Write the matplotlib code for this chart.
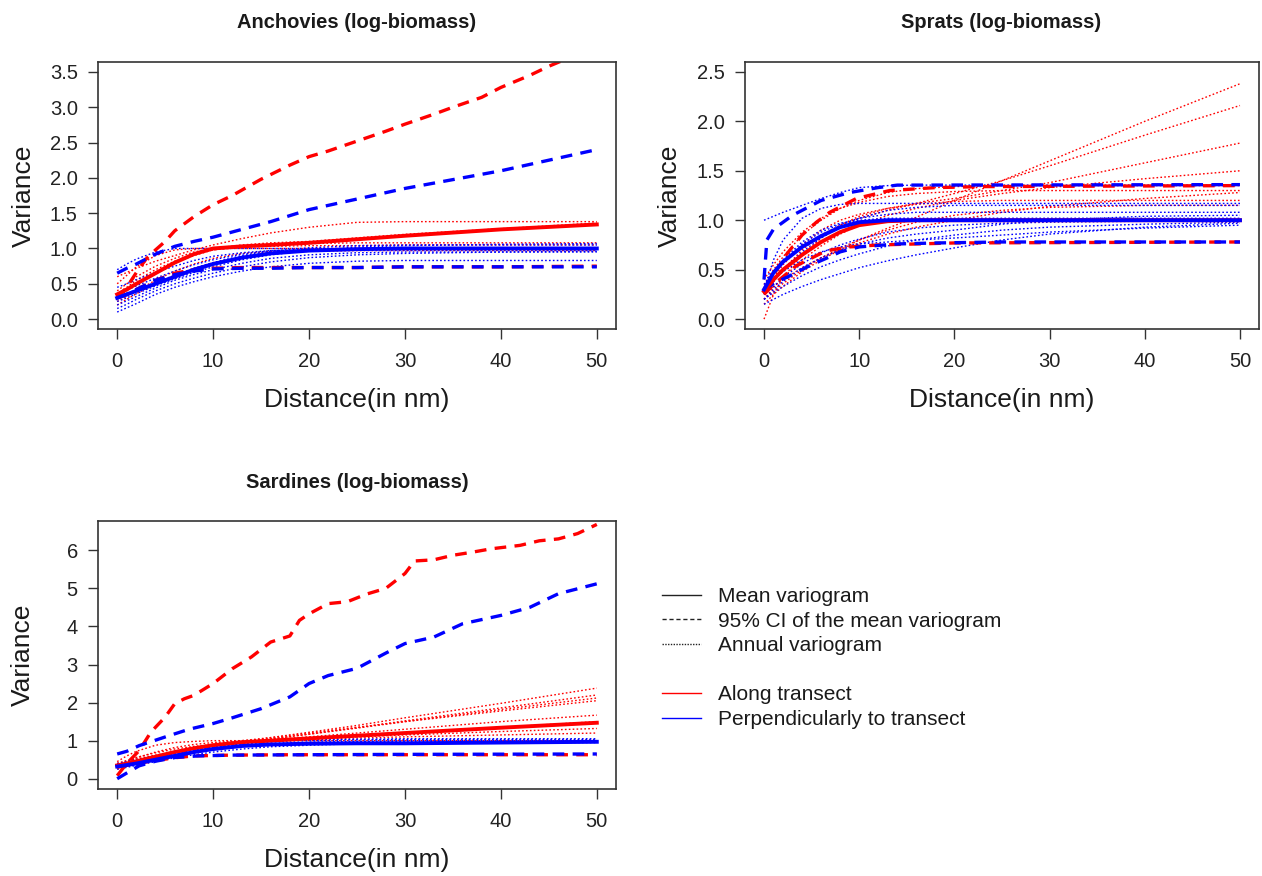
import matplotlib
matplotlib.use("Agg")
import matplotlib.pyplot as plt
from matplotlib.lines import Line2D

plt.rcParams['font.family'] = ['Liberation Sans', 'DejaVu Sans']

# ---------------- data ----------------
# common distance grid for mean and annual variograms
dist = [0, 1, 2, 4, 6, 8, 10, 13, 16, 20, 25, 30, 40, 50]

# Anchovies
anch_red_mean = [0.35, 0.42, 0.5, 0.65, 0.8, 0.92, 1.0, 1.03, 1.05, 1.08, 1.13, 1.18, 1.27, 1.34]
anch_blue_mean = [0.3, 0.35, 0.4, 0.5, 0.6, 0.7, 0.78, 0.87, 0.93, 0.97, 0.99, 1.0, 1.0, 1.0]
anch_red_up_x = [0, 1, 2, 3, 4, 5, 6, 8, 10, 12, 15, 18, 20, 22, 25, 28, 30, 33, 35, 38, 40, 43, 45, 48, 50]
anch_red_up_y = [0.3, 0.45, 0.66, 0.85, 0.98, 1.1, 1.25, 1.45, 1.62, 1.75, 1.98, 2.18, 2.3, 2.38, 2.52,
                 2.66, 2.76, 2.9, 3.0, 3.14, 3.28, 3.45, 3.58, 3.75, 3.9]
anch_red_lo_y = [0.3, 0.35, 0.42, 0.55, 0.65, 0.7, 0.72, 0.73, 0.73, 0.73, 0.73, 0.74, 0.74, 0.75]
anch_blue_up_y = [0.65, 0.72, 0.78, 0.92, 1.03, 1.1, 1.16, 1.27, 1.38, 1.55, 1.7, 1.85, 2.1, 2.4]
anch_blue_lo_y = [0.3, 0.35, 0.42, 0.55, 0.63, 0.68, 0.71, 0.72, 0.72, 0.73, 0.73, 0.74, 0.74, 0.74]
anch_red_annual = [
    [0.6, 0.66, 0.72, 0.82, 0.9, 0.98, 1.05, 1.14, 1.22, 1.3, 1.37, 1.38, 1.38, 1.38],
    [0.3, 0.4, 0.5, 0.66, 0.8, 0.9, 0.98, 1.03, 1.05, 1.07, 1.08, 1.08, 1.08, 1.08],
    [0.4, 0.5, 0.6, 0.75, 0.86, 0.95, 1.0, 1.05, 1.08, 1.1, 1.15, 1.2, 1.28, 1.36],
    [0.25, 0.32, 0.4, 0.55, 0.68, 0.78, 0.86, 0.93, 0.96, 0.98, 0.99, 1.0, 1.0, 1.0],
    [0.5, 0.62, 0.74, 0.9, 0.98, 1.0, 1.0, 1.0, 1.0, 1.0, 1.0, 1.0, 1.0, 1.0],
    [0.2, 0.28, 0.36, 0.5, 0.62, 0.72, 0.8, 0.88, 0.93, 0.96, 0.97, 0.97, 0.97, 0.97],
    [0.35, 0.45, 0.55, 0.7, 0.82, 0.92, 0.98, 1.02, 1.03, 1.04, 1.04, 1.05, 1.05, 1.05],
]
anch_blue_annual = [
    [0.7, 0.78, 0.85, 0.95, 1.0, 1.0, 1.0, 1.0, 1.0, 1.0, 1.0, 1.0, 1.0, 1.0],
    [0.1, 0.16, 0.22, 0.35, 0.45, 0.53, 0.6, 0.68, 0.74, 0.79, 0.82, 0.83, 0.83, 0.83],
    [0.2, 0.26, 0.32, 0.44, 0.55, 0.63, 0.7, 0.79, 0.86, 0.91, 0.94, 0.95, 0.95, 0.95],
    [0.3, 0.36, 0.42, 0.52, 0.62, 0.72, 0.8, 0.9, 0.96, 1.01, 1.04, 1.05, 1.05, 1.05],
    [0.25, 0.3, 0.36, 0.47, 0.57, 0.66, 0.74, 0.84, 0.91, 0.97, 1.02, 1.04, 1.06, 1.07],
    [0.35, 0.41, 0.47, 0.58, 0.68, 0.77, 0.84, 0.92, 0.97, 0.99, 1.0, 1.0, 1.0, 1.0],
    [0.45, 0.5, 0.56, 0.66, 0.75, 0.83, 0.89, 0.94, 0.97, 0.98, 0.98, 0.98, 0.98, 0.98],
    [0.15, 0.21, 0.28, 0.4, 0.5, 0.58, 0.65, 0.74, 0.81, 0.87, 0.91, 0.93, 0.95, 0.96],
]

# Sprats
spr_red_mean = [0.28, 0.4, 0.5, 0.65, 0.78, 0.88, 0.95, 0.99, 1.0, 1.0, 1.0, 1.0, 1.0, 1.0]
spr_blue_mean = [0.3, 0.47, 0.58, 0.73, 0.84, 0.93, 0.98, 1.0, 1.0, 1.0, 1.0, 1.0, 1.0, 1.0]
spr_blue_up_x = [0, 0.3, 1, 2, 3, 6, 9, 12, 14, 50]
spr_blue_up_y = [0.4, 0.8, 0.91, 0.98, 1.05, 1.2, 1.28, 1.33, 1.355, 1.36]
spr_blue_lo_x = [0, 1, 2.75, 5, 6.9, 8, 10, 14, 18, 25, 50]
spr_blue_lo_y = [0.3, 0.36, 0.44, 0.55, 0.63, 0.68, 0.73, 0.76, 0.77, 0.78, 0.78]
spr_red_up_x = [0, 1, 2.4, 4, 5.5, 6.9, 9.7, 13.2, 18, 23, 50]
spr_red_up_y = [0.3, 0.45, 0.66, 0.85, 0.98, 1.08, 1.22, 1.3, 1.33, 1.34, 1.35]
spr_red_lo_x = [0, 1, 3.4, 6.5, 9, 12, 20, 50]
spr_red_lo_y = [0.25, 0.35, 0.54, 0.69, 0.73, 0.75, 0.77, 0.78]
spr_red_annual = [
    [0.15, 0.25, 0.33, 0.48, 0.6, 0.7, 0.8, 0.92, 1.03, 1.2, 1.4, 1.6, 2.0, 2.38],
    [0.25, 0.38, 0.5, 0.7, 0.85, 0.95, 1.02, 1.1, 1.17, 1.27, 1.4, 1.55, 1.86, 2.16],
    [0.3, 0.42, 0.55, 0.75, 0.9, 1.0, 1.06, 1.12, 1.17, 1.22, 1.3, 1.38, 1.58, 1.78],
    [0.2, 0.32, 0.42, 0.6, 0.74, 0.86, 0.95, 1.05, 1.12, 1.2, 1.27, 1.33, 1.42, 1.5],
    [0.4, 0.55, 0.68, 0.88, 1.02, 1.12, 1.18, 1.24, 1.27, 1.29, 1.3, 1.3, 1.3, 1.3],
    [0.0, 0.25, 0.42, 0.65, 0.82, 0.95, 1.04, 1.12, 1.16, 1.19, 1.2, 1.2, 1.2, 1.2],
    [0.2, 0.28, 0.36, 0.5, 0.62, 0.72, 0.8, 0.9, 0.98, 1.05, 1.1, 1.13, 1.15, 1.15],
    [0.35, 0.5, 0.63, 0.85, 1.0, 1.12, 1.2, 1.28, 1.32, 1.34, 1.35, 1.35, 1.35, 1.35],
    [0.25, 0.33, 0.4, 0.52, 0.62, 0.7, 0.77, 0.86, 0.93, 1.0, 1.08, 1.14, 1.22, 1.28],
]
spr_blue_annual = [
    [1.0, 1.04, 1.08, 1.15, 1.22, 1.28, 1.33, 1.35, 1.355, 1.355, 1.355, 1.355, 1.355, 1.355],
    [0.3, 0.6, 0.8, 1.02, 1.12, 1.16, 1.17, 1.17, 1.17, 1.17, 1.17, 1.17, 1.17, 1.17],
    [0.25, 0.38, 0.5, 0.68, 0.82, 0.93, 1.02, 1.1, 1.13, 1.15, 1.15, 1.15, 1.15, 1.15],
    [0.15, 0.2, 0.25, 0.33, 0.4, 0.46, 0.52, 0.59, 0.65, 0.72, 0.8, 0.86, 0.93, 0.97],
    [0.2, 0.27, 0.33, 0.44, 0.53, 0.6, 0.66, 0.74, 0.8, 0.85, 0.9, 0.93, 0.96, 0.98],
    [0.25, 0.33, 0.42, 0.56, 0.67, 0.75, 0.81, 0.88, 0.92, 0.95, 0.97, 0.98, 0.99, 1.0],
    [0.2, 0.3, 0.38, 0.52, 0.62, 0.7, 0.76, 0.82, 0.86, 0.9, 0.96, 1.0, 1.04, 1.05],
    [0.35, 0.48, 0.6, 0.78, 0.9, 0.97, 1.0, 1.02, 1.02, 1.02, 1.02, 1.02, 1.02, 1.02],
    [0.3, 0.4, 0.48, 0.6, 0.68, 0.73, 0.76, 0.78, 0.8, 0.82, 0.85, 0.88, 0.92, 0.95],
    [0.3, 0.45, 0.58, 0.76, 0.88, 0.96, 1.02, 1.06, 1.08, 1.08, 1.08, 1.08, 1.08, 1.08],
]

# Sardines
sar_red_mean = [0.35, 0.4, 0.46, 0.58, 0.7, 0.8, 0.88, 0.96, 1.0, 1.06, 1.13, 1.2, 1.34, 1.47]
sar_blue_mean = [0.32, 0.36, 0.4, 0.5, 0.6, 0.7, 0.78, 0.86, 0.9, 0.92, 0.93, 0.93, 0.95, 0.97]
sar_red_up_x = [0, 1, 2.3, 3.5, 5, 6, 7, 8, 10, 12, 14, 16, 18, 19, 20, 22, 24, 26, 28, 30, 31, 33,
                35, 37, 39, 42, 44, 46, 48, 50]
sar_red_up_y = [0.08, 0.4, 0.74, 1.22, 1.62, 1.97, 2.1, 2.19, 2.5, 2.89, 3.2, 3.59, 3.75, 4.16, 4.33,
                4.6, 4.65, 4.85, 5.0, 5.39, 5.72, 5.75, 5.87, 5.95, 6.04, 6.13, 6.25, 6.3, 6.44, 6.68]
sar_blue_up_x = [0, 1, 2.3, 5.4, 7.5, 10, 12, 15, 18, 20, 22, 25, 28, 30, 33, 36, 40, 43, 46, 50]
sar_blue_up_y = [0.65, 0.72, 0.87, 1.13, 1.3, 1.45, 1.6, 1.84, 2.15, 2.5, 2.71, 2.9, 3.3, 3.55, 3.72,
                 4.07, 4.29, 4.5, 4.86, 5.12]
sar_blue_lo_x = [0, 1, 2.3, 4, 6.1, 8.5, 12, 20, 30, 50]
sar_blue_lo_y = [0.0, 0.15, 0.34, 0.46, 0.56, 0.6, 0.62, 0.63, 0.64, 0.65]
sar_red_lo_x = [0, 1, 2, 4, 6, 8, 12, 18, 30, 50]
sar_red_lo_y = [0.3, 0.35, 0.4, 0.48, 0.55, 0.6, 0.62, 0.63, 0.63, 0.63]
sar_red_annual = [
    [0.3, 0.38, 0.45, 0.58, 0.68, 0.76, 0.85, 0.97, 1.08, 1.22, 1.4, 1.6, 1.98, 2.38],
    [0.35, 0.42, 0.48, 0.6, 0.7, 0.78, 0.86, 0.96, 1.05, 1.17, 1.33, 1.5, 1.82, 2.12],
    [0.25, 0.33, 0.4, 0.53, 0.64, 0.73, 0.82, 0.94, 1.04, 1.17, 1.34, 1.52, 1.86, 2.2],
    [0.4, 0.48, 0.56, 0.68, 0.78, 0.85, 0.9, 0.97, 1.03, 1.1, 1.2, 1.3, 1.5, 1.67],
    [0.3, 0.36, 0.42, 0.54, 0.64, 0.72, 0.8, 0.9, 0.97, 1.05, 1.13, 1.2, 1.35, 1.5],
    [0.45, 0.6, 0.72, 0.88, 0.95, 0.98, 1.0, 1.0, 1.0, 1.0, 1.0, 1.0, 1.0, 1.0],
    [0.35, 0.45, 0.55, 0.7, 0.82, 0.9, 0.95, 1.0, 1.02, 1.05, 1.1, 1.15, 1.24, 1.32],
    [0.4, 0.46, 0.52, 0.62, 0.72, 0.8, 0.87, 0.95, 1.0, 1.04, 1.07, 1.1, 1.15, 1.2],
    [0.3, 0.38, 0.46, 0.6, 0.72, 0.82, 0.9, 1.0, 1.08, 1.2, 1.35, 1.5, 1.78, 2.05],
]
sar_blue_annual = [
    [0.3, 0.36, 0.42, 0.55, 0.66, 0.75, 0.82, 0.92, 0.98, 1.0, 1.02, 1.03, 1.03, 1.03],
    [0.35, 0.4, 0.45, 0.55, 0.64, 0.72, 0.8, 0.88, 0.93, 0.96, 0.97, 0.98, 0.98, 0.98],
    [0.25, 0.3, 0.35, 0.45, 0.55, 0.63, 0.7, 0.78, 0.84, 0.88, 0.92, 0.93, 0.95, 0.95],
    [0.4, 0.45, 0.5, 0.6, 0.7, 0.78, 0.86, 0.95, 0.99, 1.02, 1.04, 1.05, 1.05, 1.05],
    [0.3, 0.35, 0.4, 0.5, 0.6, 0.68, 0.75, 0.84, 0.9, 0.95, 0.98, 1.0, 1.0, 1.0],
]

x_ticks = [0, 10, 20, 30, 40, 50]
anch_yticks = [0.0, 0.5, 1.0, 1.5, 2.0, 2.5, 3.0, 3.5]
spr_yticks = [0.0, 0.5, 1.0, 1.5, 2.0, 2.5]
sar_yticks = [0, 1, 2, 3, 4, 5, 6]

titles = ["Anchovies (log-biomass)", "Sprats (log-biomass)", "Sardines (log-biomass)"]
xlab = "Distance(in nm)"
ylab = "Variance"
legend_labels = ["Mean variogram", "95% CI of the mean variogram", "Annual variogram", "",
                 "Along transect", "Perpendicularly to transect"]

# ---------------- drawing ----------------
W, H = 1262, 876
RED, BLUE = '#ff0000', '#0000ff'
fig = plt.figure(figsize=(W / 100, H / 100), dpi=100)


def px_axes(l, t, r, b):
    return fig.add_axes([l / W, 1 - b / H, (r - l) / W, (b - t) / H])


DOT = (0, (1.2, 1.6))
DASH = (0, (3.5, 2.5))


def draw_panel(ax, red_ann, blue_ann, red_up, red_lo, blue_up, blue_lo, red_mean, blue_mean):
    for y in red_ann:
        ax.plot(dist, y, color=RED, lw=1.0, ls=DOT)
    for y in blue_ann:
        ax.plot(dist, y, color=BLUE, lw=1.0, ls=DOT)
    ax.plot(red_up[0], red_up[1], color=RED, lw=2.4, ls=DASH)
    ax.plot(red_lo[0], red_lo[1], color=RED, lw=2.4, ls=DASH)
    ax.plot(blue_up[0], blue_up[1], color=BLUE, lw=2.4, ls=DASH)
    ax.plot(blue_lo[0], blue_lo[1], color=BLUE, lw=2.4, ls=DASH)
    ax.plot(dist, red_mean, color=RED, lw=2.8)
    ax.plot(dist, blue_mean, color=BLUE, lw=2.8)


def style_axes(ax, yticks, ylim, fmt):
    ax.set_xlim(-2, 52)
    ax.set_ylim(*ylim)
    ax.set_xticks(x_ticks)
    ax.set_xticklabels([str(v) for v in x_ticks])
    ax.set_yticks(yticks)
    ax.set_yticklabels([fmt.format(v) for v in yticks])
    ax.tick_params(direction='out', length=7.5, width=1.0, color='#333333',
                   labelsize=14.5, labelcolor='#222222', pad=7)
    ax.tick_params(axis='x', pad=9)
    for sp in ax.spines.values():
        sp.set_color('#333333')
        sp.set_linewidth(1.2)


def ftext(x, y, s, **kw):
    fig.text(x / W, 1 - y / H, s, ha='center', va='center', color='#1a1a1a', **kw)


# Anchovies
ax1 = px_axes(98, 62, 616, 329)
draw_panel(ax1, anch_red_annual, anch_blue_annual,
           (anch_red_up_x, anch_red_up_y), (dist, anch_red_lo_y),
           (dist, anch_blue_up_y), (dist, anch_blue_lo_y),
           anch_red_mean, anch_blue_mean)
style_axes(ax1, anch_yticks, (-0.14, 3.64), "{:.1f}")

# Sprats
ax2 = px_axes(745, 62, 1259, 329)
draw_panel(ax2, spr_red_annual, spr_blue_annual,
           (spr_red_up_x, spr_red_up_y), (spr_red_lo_x, spr_red_lo_y),
           (spr_blue_up_x, spr_blue_up_y), (spr_blue_lo_x, spr_blue_lo_y),
           spr_red_mean, spr_blue_mean)
style_axes(ax2, spr_yticks, (-0.1, 2.6), "{:.1f}")

# Sardines
ax3 = px_axes(98, 521, 616, 789)
draw_panel(ax3, sar_red_annual, sar_blue_annual,
           (sar_red_up_x, sar_red_up_y), (sar_red_lo_x, sar_red_lo_y),
           (sar_blue_up_x, sar_blue_up_y), (sar_blue_lo_x, sar_blue_lo_y),
           sar_red_mean, sar_blue_mean)
style_axes(ax3, sar_yticks, (-0.27, 6.77), "{:d}")

# titles and axis labels
ftext(357, 22, titles[0], fontsize=14.5, fontweight='bold')
ftext(1001, 22, titles[1], fontsize=14.5, fontweight='bold')
ftext(357, 482, titles[2], fontsize=14.5, fontweight='bold')
ftext(357, 400, xlab, fontsize=19)
ftext(1002, 400, xlab, fontsize=19)
ftext(357, 860, xlab, fontsize=19)
ftext(24, 196, ylab, fontsize=19, rotation=90)
ftext(670, 196, ylab, fontsize=19, rotation=90)
ftext(23, 655, ylab, fontsize=19, rotation=90)

# legend
handles = [
    Line2D([], [], color='#222222', lw=1.0, ls='-'),
    Line2D([], [], color='#222222', lw=1.0, ls=(0, (3, 2))),
    Line2D([], [], color='#222222', lw=1.0, ls=(0, (1, 1))),
    Line2D([], [], color='none', lw=0),
    Line2D([], [], color=RED, lw=1.0),
    Line2D([], [], color=BLUE, lw=1.0),
]
fig.legend(handles, legend_labels, loc='upper left', bbox_to_anchor=(662 / W, 1 - 587 / H),
           frameon=False, fontsize=15, handlelength=1.85, handletextpad=0.85,
           labelspacing=0.27, borderpad=0, borderaxespad=0, labelcolor='#1a1a1a')

fig.savefig("out.png", dpi=100)
